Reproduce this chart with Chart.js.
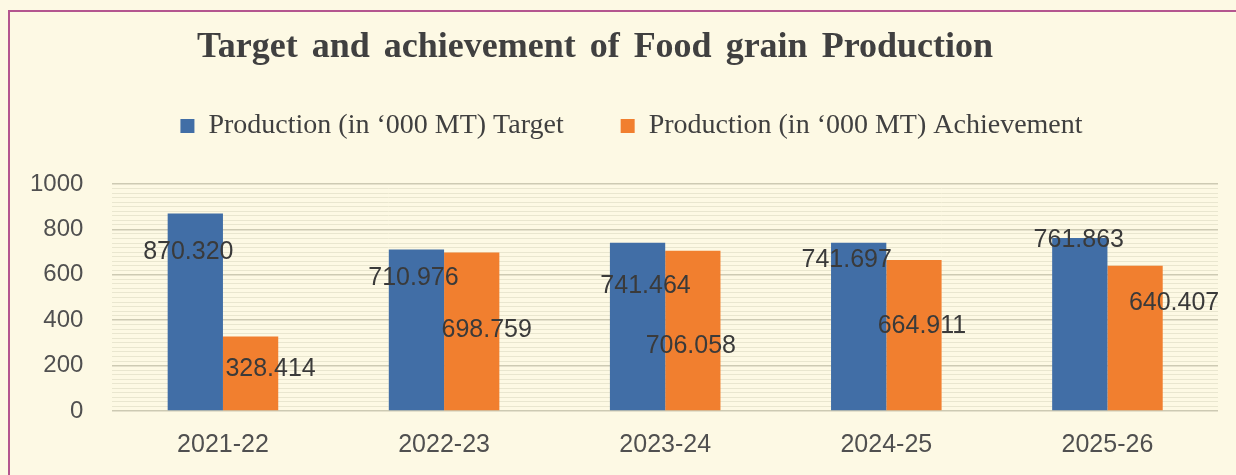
<!DOCTYPE html>
<html><head><meta charset="utf-8">
<script src="https://cdn.jsdelivr.net/npm/chart.js@4.4.1/dist/chart.umd.min.js"></script>
<style>
html,body{margin:0;padding:0;background:#FDF9E4;overflow:hidden;}
#wrap{position:relative;width:1236px;height:475px;}
#frame{position:absolute;left:8px;top:10px;width:1400px;height:700px;border:2px solid #B4568F;box-sizing:border-box;}
canvas{position:absolute;left:0;top:0;}
</style></head><body>
<div id="wrap"><div id="frame"></div><canvas id="c" width="1236" height="475"></canvas></div>
<script>
// ---- data ----
const chartTitle = 'Target and achievement of Food grain Production';
const categories = ['2021-22', '2022-23', '2023-24', '2024-25', '2025-26'];
const seriesNames = ['Production (in \u2018000 MT) Target', 'Production (in \u2018000 MT) Achievement'];
const targetValues = [870.320, 710.976, 741.464, 741.697, 761.863];
const achievementValues = [328.414, 698.759, 706.058, 664.911, 640.407];
const yTickLabels = [0, 200, 400, 600, 800, 1000];

// ---- styles ----
const blue = '#416EA6';
const orange = '#F17F2F';
const targetLabelOffsets = [[-7, 39], [-3, 29], [8, 43], [-12, 17], [-1, 2]];
const achievementLabelOffsets = [[20, 33], [15, 78], [-2, 95], [8, 66], [39, 37]];

const titlePlugin = {
  id: 'customTitle',
  afterDraw(chart, args, o) {
    const ctx = chart.ctx;
    ctx.save();
    ctx.font = o.font;
    ctx.fillStyle = o.color;
    ctx.textAlign = 'center';
    ctx.textBaseline = 'alphabetic';
    if ('wordSpacing' in ctx) ctx.wordSpacing = o.wordSpacing;
    ctx.fillText(o.text, o.x, o.y);
    ctx.restore();
  }
};

const legendGap = {
  id: 'legendGap',
  beforeInit(chart) {
    const orig = chart.legend.fit;
    chart.legend.fit = function () {
      orig.call(this);
      this.height += 34;
    };
  },
  afterLayout(chart, args, o) {
    chart.legend.left += o.shift;
    chart.legend.right += o.shift;
  }
};

const valueLabels = {
  id: 'valueLabels',
  afterDatasetsDraw(chart, args, o) {
    const ctx = chart.ctx;
    ctx.save();
    ctx.font = o.font;
    ctx.fillStyle = o.color;
    ctx.textAlign = 'center';
    ctx.textBaseline = 'middle';
    chart.data.datasets.forEach((ds, di) => {
      const meta = chart.getDatasetMeta(di);
      const offs = o.offsets[di];
      meta.data.forEach((bar, i) => {
        const p = bar.getProps(['x', 'y'], true);
        ctx.fillText(ds.data[i].toFixed(3), p.x + offs[i][0], p.y + offs[i][1]);
      });
    });
    ctx.restore();
  }
};

new Chart(document.getElementById('c'), {
  type: 'bar',
  data: {
    labels: categories,
    datasets: [
      { label: seriesNames[0], data: targetValues, backgroundColor: blue },
      { label: seriesNames[1], data: achievementValues, backgroundColor: orange }
    ]
  },
  options: {
    responsive: false,
    devicePixelRatio: 1,
    animation: false,
    layout: { padding: { left: 1, right: 18, top: 55, bottom: 0 } },
    datasets: { bar: { categoryPercentage: 0.5, barPercentage: 1.0 } },
    scales: {
      x: {
        grid: { display: false, drawTicks: true, tickLength: 5 },
        border: { display: false },
        ticks: { color: '#505050', font: { family: 'Liberation Sans', size: 25 }, padding: 14.5, maxRotation: 0 }
      },
      y: {
        min: 0, max: 1000,
        border: { display: false },
        grid: {
          drawTicks: false,
          color: (c) => (c.tick && yTickLabels.includes(c.tick.value)) ? '#CDCAB3' : '#E9E6CF',
          lineWidth: (c) => (c.tick && yTickLabels.includes(c.tick.value)) ? 1.6 : 1
        },
        ticks: {
          stepSize: 20,
          autoSkip: false,
          padding: 29,
          color: '#505050',
          font: { family: 'Liberation Sans', size: 24 },
          callback: (v) => yTickLabels.includes(v) ? String(v) : ''
        }
      }
    },
    plugins: {
      tooltip: { enabled: false },
      legend: {
        position: 'top',
        labels: {
          boxWidth: 14, boxHeight: 14, padding: 57,
          color: '#404040',
          font: { family: 'Liberation Serif', size: 28 }
        }
      },
      legendGap: { shift: 22 },
      customTitle: { text: chartTitle, x: 595, y: 57, font: 'bold 36px "Liberation Serif"', color: '#404040', wordSpacing: '5px' },
      valueLabels: { offsets: [targetLabelOffsets, achievementLabelOffsets], font: '25px "Liberation Sans"', color: '#3A3A3A' }
    }
  },
  plugins: [legendGap, titlePlugin, valueLabels]
});
</script>
</body></html>
